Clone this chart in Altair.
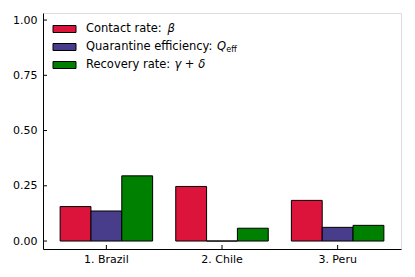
import altair as alt
import pandas as pd

# ---- data ----
countries = ["1. Brazil", "2. Chile", "3. Peru"]
series = ["Contact rate", "Quarantine efficiency", "Recovery rate"]
contact_rate = [0.156, 0.247, 0.184]
quarantine_eff = [0.136, 0.0, 0.062]
recovery_rate = [0.295, 0.058, 0.071]
colors = ["#DC143C", "#483D8B", "#008000"]
y_ticks = [0.0, 0.25, 0.5, 0.75, 1.0]

label_prefix = ["Contact rate: ", "Quarantine efficiency: ", "Recovery rate: "]
label_math = ["β", "Q", "γ + δ"]
label_sub = ["", "eff", ""]

rows = []
for s, vals in zip(series, [contact_rate, quarantine_eff, recovery_rate]):
    for c, v in zip(countries, vals):
        rows.append({"country": c, "series": s, "value": v})
df = pd.DataFrame(rows)

W, H = 358, 236
FONT = "DejaVu Sans"
ydom = [-0.036, 1.032]

yscale = alt.Scale(domain=ydom, nice=False, zero=False)
xscale = alt.Scale(domain=countries, paddingInner=0.2, paddingOuter=0.148)

bars = alt.Chart(df).mark_bar(stroke="black", strokeWidth=1).encode(
    x=alt.X("country:N", scale=xscale, sort=countries,
            axis=alt.Axis(title=None, labelAngle=0, ticks=False, tickSize=0,
                          labelPadding=4, labelFontSize=11, labelFont=FONT,
                          labelColor="black", domainColor="black", domainWidth=1)),
    xOffset=alt.XOffset("series:N", sort=series,
                        scale=alt.Scale(domain=series, paddingInner=0, paddingOuter=0)),
    y=alt.Y("value:Q", scale=yscale,
            axis=alt.Axis(title=None, values=y_ticks, format=".2f", grid=False,
                          ticks=False, tickSize=0, labelPadding=6, labelFontSize=11,
                          labelFont=FONT, labelColor="black", domainColor="black",
                          domainWidth=1)),
    y2=alt.datum(0),
    color=alt.Color("series:N", scale=alt.Scale(domain=series, range=colors), legend=None),
)

ytick_layer = alt.Chart(pd.DataFrame({"v": y_ticks})).mark_rule(color="black", strokeWidth=1).encode(
    y=alt.Y("v:Q", scale=yscale),
    x=alt.value(0), x2=alt.value(4),
)
xtick_layer = alt.Chart(pd.DataFrame({"country": countries})).mark_rule(color="black", strokeWidth=1).encode(
    x=alt.X("country:N", scale=xscale, sort=countries),
    y=alt.value(H - 4), y2=alt.value(H),
)

# ---- manual legend (mathtext-like labels) ----
leg_layers = []
row_y = [16, 34, 52]
sw_x0, sw_x1 = 10, 33
text_x = 43
fs = 11.5
prefix_w = [7.095 * fs, 11.4 * fs, 7.686 * fs]
for i in range(3):
    one = pd.DataFrame({"s": [series[i]]})
    leg_layers.append(
        alt.Chart(one).mark_rect(stroke="black", strokeWidth=1, color=colors[i]).encode(
            x=alt.value(sw_x0), x2=alt.value(sw_x1),
            y=alt.value(row_y[i] - 3.5), y2=alt.value(row_y[i] + 3.5),
        )
    )
    leg_layers.append(
        alt.Chart(pd.DataFrame({"t": [label_prefix[i]]})).mark_text(
            align="left", baseline="middle", font=FONT, fontSize=fs, color="black"
        ).encode(x=alt.value(text_x), y=alt.value(row_y[i]), text="t:N")
    )
    leg_layers.append(
        alt.Chart(pd.DataFrame({"t": [label_math[i]]})).mark_text(
            align="left", baseline="middle", font=FONT, fontSize=fs, color="black",
            fontStyle="italic"
        ).encode(x=alt.value(text_x + prefix_w[i]), y=alt.value(row_y[i]), text="t:N")
    )
    if label_sub[i]:
        leg_layers.append(
            alt.Chart(pd.DataFrame({"t": [label_sub[i]]})).mark_text(
                align="left", baseline="middle", font=FONT, fontSize=8, color="black"
            ).encode(x=alt.value(text_x + prefix_w[i] + 0.80 * fs), y=alt.value(row_y[i] + 3),
                     text="t:N")
        )

chart = alt.layer(bars, ytick_layer, xtick_layer, *leg_layers).properties(
    width=W, height=H,
    autosize=alt.AutoSizeParams(type="none"),
    padding={"left": 35, "top": 5, "right": 6, "bottom": 20},
).configure_view(stroke="black", strokeWidth=1).configure(background="white")

chart.save("out.html", embed_options={"renderer": "svg", "actions": False})
